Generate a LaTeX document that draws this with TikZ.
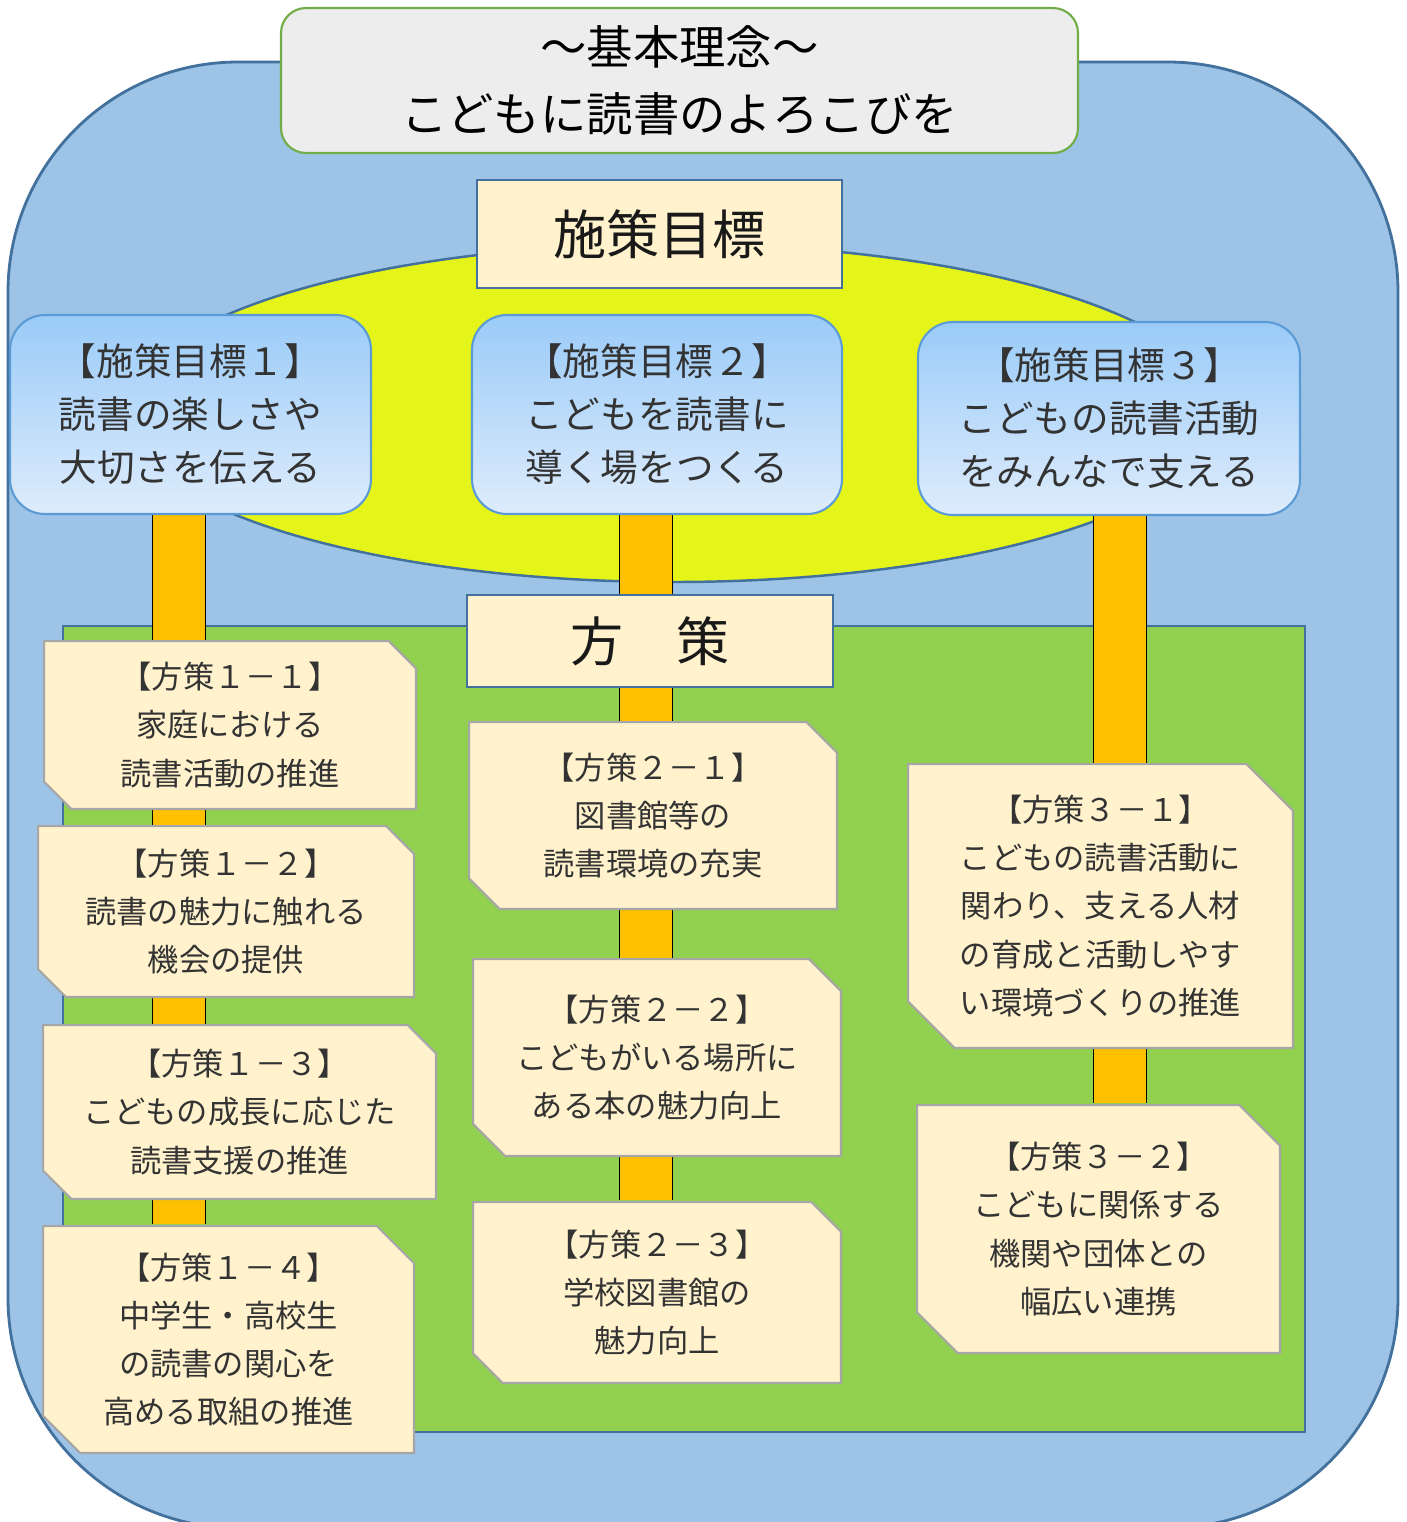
\documentclass[tikz,border=0pt]{standalone}
\usepackage{fontspec}
\setmainfont{Noto Sans CJK JP}
\usetikzlibrary{calc}

\definecolor{fondo}{HTML}{9DC3E6}
\definecolor{borde}{HTML}{41719C}
\definecolor{verde}{HTML}{92D050}
\definecolor{amarillo}{HTML}{E5F51A}
\definecolor{naranja}{HTML}{FFC000}
\definecolor{crema}{HTML}{FFF2CC}
\definecolor{gristitulo}{HTML}{EDEDED}
\definecolor{verdeborde}{HTML}{70AD47}
\definecolor{celeste}{HTML}{9ACBF8}
\definecolor{celesteclaro}{HTML}{DEECFC}
\definecolor{azulborde}{HTML}{5B9BD5}
\definecolor{grisborde}{HTML}{A6A6A6}

\pgfdeclarelayer{capafondo}
\pgfdeclarelayer{capabarras}
\pgfsetlayers{capafondo,capabarras,main}

\begin{document}
\begin{tikzpicture}[x=0.1mm, y=-0.1mm,
    meta/.style={rectangle, rounded corners=3.5mm, draw=azulborde, line width=0.6pt,
        top color=celeste, bottom color=celesteclaro,
        align=center, text=black!80, font=\fontsize{10.7}{15.1}\selectfont},
    cabecera/.style={rectangle, draw=borde, line width=0.7pt, fill=crema, text=black!90,
        font=\fontsize{15.1}{18}\selectfont},
    medida/.style={rectangle, inner sep=0pt, align=center, text=black!80,
        font=\fontsize{8.9}{13.7}\selectfont,
        path picture={
            \filldraw[fill=crema, draw=grisborde, line width=0.6pt]
            let \p1=(path picture bounding box.south west),
                \p2=(path picture bounding box.north east),
                \n1={0.1667*(\y2-\y1)} in
            (\x1+0.3pt,\y2-0.3pt) -- (\x2-\n1,\y2-0.3pt) -- (\x2-0.3pt,\y2-\n1)
            -- (\x2-0.3pt,\y1+0.3pt) -- (\x1+\n1,\y1+0.3pt) -- (\x1+0.3pt,\y1+\n1) -- cycle;
        }},
    barra/.style={draw=black, line width=0.4pt, double=naranja, double distance=5.2mm}
]
    \useasboundingbox (0,0) rectangle (1407,1522);

    % Fondo
    \begin{pgfonlayer}{capafondo}
        \fill[white] (0,0) rectangle (1407,1522);
        \begin{scope}
            \clip (0,0) rectangle (1407,1522);
            \draw[fill=fondo, draw=borde, line width=0.8pt, rounded corners=23mm] (8,62) rectangle (1398,1528);
        \end{scope}
        \draw[fill=amarillo, draw=borde, line width=0.7pt] (673,413) ellipse [x radius=54.8mm, y radius=16.9mm];
        \draw[fill=verde, draw=borde, line width=0.7pt] (63,626) rectangle (1305,1432);
    \end{pgfonlayer}

    % Titulo
    \node[rectangle, rounded corners=2.5mm, draw=verdeborde, line width=0.6pt, fill=gristitulo,
        minimum width=79.7mm, minimum height=14.5mm, align=center,
        font=\fontsize{13.2}{19.1}\selectfont] (lema) at (679.5,80.5) {～基本理念～\\こどもに読書のよろこびを};

    % Metas
    \node[cabecera, minimum width=36.5mm, minimum height=10.8mm] (metas) at (659.5,234) {施策目標};
    \node[meta, minimum width=36.1mm, minimum height=19.9mm] (g1) at (190.5,414.5) {【施策目標１】\\読書の楽しさや\\大切さを伝える};
    \node[meta, minimum width=37mm, minimum height=19.9mm] (g2) at (657,414.5) {【施策目標２】\\こどもを読書に\\導く場をつくる};
    \node[meta, minimum width=38.2mm, minimum height=19.3mm] (g3) at (1109,418.5) {【施策目標３】\\こどもの読書活動\\をみんなで支える};

    % Medidas
    \node[cabecera, minimum width=36.6mm, minimum height=9.2mm] (medidas) at (650,641) {方　策};
    \node[medida, minimum width=37.4mm, minimum height=17mm] (m11) at (230,725) {【方策１－１】\\家庭における\\読書活動の推進};
    \node[medida, minimum width=37.8mm, minimum height=17.3mm] (m12) at (226,911.5) {【方策１－２】\\読書の魅力に触れる\\機会の提供};
    \node[medida, minimum width=39.5mm, minimum height=17.6mm] (m13) at (239.5,1112) {【方策１－３】\\こどもの成長に応じた\\読書支援の推進};
    \node[medida, minimum width=37.3mm, minimum height=22.9mm] (m14) at (228.5,1339.5) {【方策１－４】\\中学生・高校生\\の読書の関心を\\高める取組の推進};
    \node[medida, minimum width=37mm, minimum height=18.9mm] (m21) at (653,815.5) {【方策２－１】\\図書館等の\\読書環境の充実};
    \node[medida, minimum width=37mm, minimum height=19.9mm] (m22) at (657,1057.5) {【方策２－２】\\こどもがいる場所に\\ある本の魅力向上};
    \node[medida, minimum width=37mm, minimum height=18.3mm] (m23) at (657,1292.5) {【方策２－３】\\学校図書館の\\魅力向上};
    \node[medida, minimum width=38.7mm, minimum height=28.6mm] (m31) at (1100.5,906) {【方策３－１】\\こどもの読書活動に\\関わり、支える人材\\の育成と活動しやす\\い環境づくりの推進};
    \node[medida, minimum width=36.5mm, minimum height=25mm] (m32) at (1098.5,1229) {【方策３－２】\\こどもに関係する\\機関や団体との\\幅広い連携};

    % Barras
    \coordinate (x1) at (179,0);
    \coordinate (x2) at (646,0);
    \coordinate (x3) at (1120,0);
    \begin{pgfonlayer}{capabarras}
        \draw[barra] (g1.south -| x1) -- (m14.north -| x1);
        \draw[barra] (g2.south -| x2) -- (m23.north -| x2);
        \draw[barra] (g3.south -| x3) -- (m32.north -| x3);
    \end{pgfonlayer}
\end{tikzpicture}
\end{document}
